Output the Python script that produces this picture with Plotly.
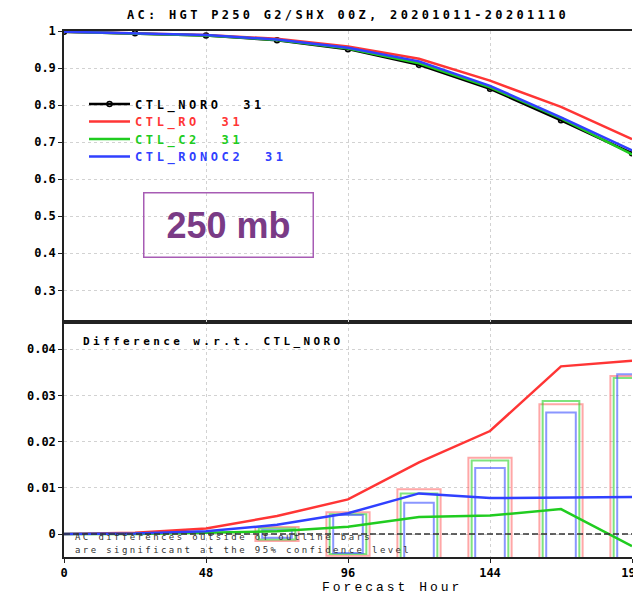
import plotly.graph_objects as go

# Forecast lead times (hours)
hours = [0, 24, 48, 72, 96, 120, 144, 168, 192]

# Anomaly correlation, 250 hPa geopotential height
ac_noro = [0.998, 0.994, 0.988, 0.975, 0.951, 0.909, 0.844, 0.759, 0.670]
ac_ro = [0.998, 0.994, 0.989, 0.979, 0.958, 0.925, 0.866, 0.795, 0.708]
ac_c2 = [0.998, 0.994, 0.988, 0.976, 0.953, 0.913, 0.848, 0.764, 0.667]
ac_ronoc2 = [0.998, 0.994, 0.989, 0.977, 0.955, 0.918, 0.852, 0.767, 0.678]

# Differences with respect to CTL_NORO
diff_ro = [0.0, 0.0003, 0.0012, 0.0039, 0.0075, 0.0155, 0.0223, 0.0363, 0.0375]
diff_c2 = [0.0, 0.0000, 0.0003, 0.0006, 0.0016, 0.0037, 0.0040, 0.0054, -0.0026]
diff_ronoc2 = [0.0, 0.0001, 0.0006, 0.0020, 0.0045, 0.0088, 0.0078, 0.0079, 0.0080]

# 95% confidence half-widths of the differences (outline bars around zero)
ci_hours = [72, 96, 120, 144, 168, 192]
ci_ro = [0.0015, 0.0047, 0.0097, 0.0165, 0.0281, 0.0342]
ci_c2 = [0.0012, 0.0043, 0.0088, 0.0159, 0.0288, 0.0338]
ci_ronoc2 = [0.0008, 0.0041, 0.0068, 0.0143, 0.0263, 0.0346]

# Axis ticks
x_ticks = [0, 48, 96, 144, 192]
x_ticklabels = ["0", "48", "96", "144", "192"]
ac_ticks = [0.3, 0.4, 0.5, 0.6, 0.7, 0.8, 0.9, 1.0]
ac_ticklabels = ["0.3", "0.4", "0.5", "0.6", "0.7", "0.8", "0.9", "1"]
diff_ticks = [0.0, 0.01, 0.02, 0.03, 0.04]
diff_ticklabels = ["0", "0.01", "0.02", "0.03", "0.04"]

experiments = ["CTL_NORO", "CTL_RO", "CTL_C2", "CTL_RONOC2"]
sample_count = 31

RED = "#ff3535"
GREEN = "#20cc20"
BLUE = "#3040ff"
BLACK = "#000000"
MONO = "DejaVu Sans Mono"

# Pixel layout of the page
W, H = 633, 596
ML, MR, MT, MB = 64, 1, 31, 39
PW, PH = W - ML - MR, H - MT - MB
SPLIT = 235 / PH  # fraction of the plot height used by the difference panel


def px_x(p):
    return (p - ML) / PW


def px_y(p):
    return (H - MB - p) / PH


def spaced(text, px, color=None):
    style = "letter-spacing:%gpx" % px
    if color:
        style += ";color:%s" % color
    return '<span style="%s">%s</span>' % (style, text.replace(" ", "\u00a0"))


fig = go.Figure()

# ---- top panel: anomaly correlation ----
series = [
    (experiments[0], ac_noro, BLACK, "legend"),
    (experiments[1], ac_ro, RED, "legend2"),
    (experiments[2], ac_c2, GREEN, "legend3"),
    (experiments[3], ac_ronoc2, BLUE, "legend4"),
]
for name, vals, col, leg in series:
    label = spaced("%s  %d" % (name, sample_count), 3.6, col)
    is_ref = name == "CTL_NORO"
    fig.add_trace(go.Scatter(
        x=hours, y=vals, xaxis="x2", yaxis="y2",
        mode="lines+markers" if is_ref else "lines",
        line=dict(color=col, width=2.5),
        marker=dict(symbol="circle-open", size=5, color=col, line=dict(width=1.5)),
        name=label, legend=leg, showlegend=True,
    ))

# ---- bottom panel: confidence bars ----
for ci, col, width in [(ci_ro, "rgba(255,80,80,0.5)", 14.6),
                       (ci_c2, "rgba(40,210,40,0.6)", 12.4),
                       (ci_ronoc2, "rgba(60,80,255,0.6)", 10.0)]:
    fig.add_trace(go.Bar(
        x=ci_hours, y=[2 * c for c in ci], base=[-c for c in ci],
        width=width, xaxis="x", yaxis="y",
        marker=dict(color="rgba(0,0,0,0)", line=dict(color=col, width=2)),
        showlegend=False, hoverinfo="skip",
    ))

# ---- bottom panel: difference lines ----
for vals, col in [(diff_ro, RED), (diff_c2, GREEN), (diff_ronoc2, BLUE)]:
    fig.add_trace(go.Scatter(
        x=hours, y=vals, xaxis="x", yaxis="y", mode="lines",
        line=dict(color=col, width=2.5), showlegend=False,
    ))

# dashed zero reference in the difference panel
fig.add_shape(type="line", xref="x", yref="y", x0=0, x1=192, y0=0, y1=0,
              line=dict(color="#333333", width=1.5, dash="6px,3px"))

tickfont = dict(family=MONO, size=12, color="black", weight="bold")
axis_common = dict(showline=True, linecolor="#222222", linewidth=1.5,
                   ticks="outside", ticklen=4, tickcolor="#222222",
                   showgrid=True, gridcolor="#d2d2d2", griddash="dot", gridwidth=1,
                   zeroline=False, tickfont=tickfont, automargin=False)

fig.update_layout(
    width=W, height=H, autosize=False,
    margin=dict(l=ML, r=MR, t=MT, b=MB, pad=0, autoexpand=False),
    paper_bgcolor="white", plot_bgcolor="white",
    barmode="overlay",
    xaxis=dict(domain=[0, 1], anchor="y", range=[0, 192], tickvals=x_ticks,
               ticktext=x_ticklabels, mirror=True, ticklabeloverflow="allow",
               **axis_common),
    yaxis=dict(domain=[0, SPLIT], anchor="x", range=[-0.00497, 0.0459],
               tickvals=diff_ticks, ticktext=diff_ticklabels, **axis_common),
    xaxis2=dict(domain=[0, 1], anchor="y2", range=[0, 192], matches="x",
                tickvals=x_ticks, showticklabels=False, mirror=True,
                **{k: v for k, v in axis_common.items() if k not in ("ticks",)}),
    yaxis2=dict(domain=[SPLIT, 1], anchor="x2", range=[0.2145, 1.0],
                tickvals=ac_ticks, ticktext=ac_ticklabels, **axis_common),
    showlegend=True,
)

# one single-entry legend per experiment, stacked in the top-left of the AC panel
legend_rows = [104, 121.5, 139, 156.5]
for key, yc in zip(["legend", "legend2", "legend3", "legend4"], legend_rows):
    fig.update_layout({key: dict(
        x=px_x(84), y=px_y(yc), xanchor="left", yanchor="middle",
        bgcolor="rgba(0,0,0,0)", borderwidth=0, itemwidth=41,
        font=dict(family=MONO, size=12, weight="bold"),
        tracegroupgap=0,
    )})

# title
fig.add_annotation(xref="paper", yref="paper", x=0.5, y=px_y(15),
                   xanchor="center", yanchor="middle", showarrow=False,
                   text=spaced("AC: HGT P250 G2/SHX 00Z, 20201011-20201110", 3.3),
                   font=dict(family=MONO, size=12, color="black", weight="bold"))

# pressure-level tag
fig.add_annotation(xref="paper", yref="paper", x=px_x(228), y=px_y(224.5),
                   xanchor="center", yanchor="middle", showarrow=False,
                   text="250 mb", width=166, height=61, borderpad=1,
                   bordercolor="#a75cb4", borderwidth=1.5,
                   font=dict(family="Liberation Sans", size=36, color="#7a3b86",
                             weight="bold"))

# difference panel heading
fig.add_annotation(xref="paper", yref="paper", x=px_x(81), y=px_y(341),
                   xanchor="left", yanchor="middle", showarrow=False,
                   text=spaced("Difference w.r.t. CTL_NORO", 3.4),
                   font=dict(family=MONO, size=11, color="black", weight="bold"))

# significance note
for line_text, yc in [("AC differences outside of outline bars", 537),
                      ("are significant at the 95% confidence level", 550)]:
    fig.add_annotation(xref="paper", yref="paper", x=px_x(73), y=px_y(yc),
                       xanchor="left", yanchor="middle", showarrow=False,
                       text=spaced(line_text, 2.4),
                       font=dict(family=MONO, size=9, color="#333333"))

# x-axis title
fig.add_annotation(xref="paper", yref="paper", x=px_x(392), y=px_y(587),
                   xanchor="center", yanchor="middle", showarrow=False,
                   text=spaced("Forecast Hour", 3.0),
                   font=dict(family="Liberation Mono", size=13, color="black"))

fig.write_html("out.html", config={"displayModeBar": False})
